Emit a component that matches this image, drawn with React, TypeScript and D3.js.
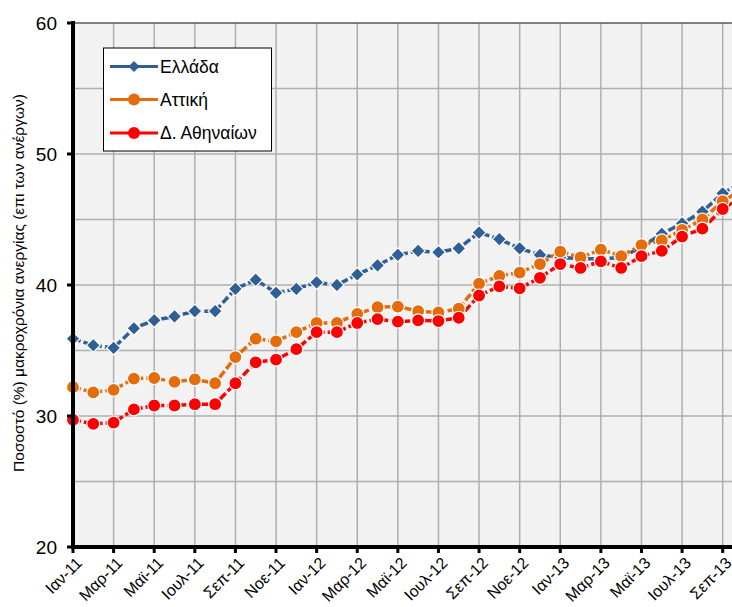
import React from "react";
import * as d3 from "d3";

const months = [
  "Ιαν-11","Φεβ-11","Μαρ-11","Απρ-11","Μαϊ-11","Ιουν-11","Ιουλ-11","Αυγ-11","Σεπ-11","Οκτ-11","Νοε-11","Δεκ-11",
  "Ιαν-12","Φεβ-12","Μαρ-12","Απρ-12","Μαϊ-12","Ιουν-12","Ιουλ-12","Αυγ-12","Σεπ-12","Οκτ-12","Νοε-12","Δεκ-12",
  "Ιαν-13","Φεβ-13","Μαρ-13","Απρ-13","Μαϊ-13","Ιουν-13","Ιουλ-13","Αυγ-13","Σεπ-13","Οκτ-13",
];

const greece = [35.9,35.4,35.2,36.7,37.3,37.6,38.0,38.0,39.7,40.4,39.4,39.7,40.2,40.0,40.8,41.5,42.3,42.6,42.5,42.8,44.0,43.5,42.8,42.3,42.1,42.0,42.0,42.1,42.9,43.9,44.7,45.6,47.0,47.9];
const attiki = [32.2,31.8,32.0,32.85,32.9,32.6,32.8,32.5,34.5,35.9,35.7,36.4,37.1,37.1,37.8,38.3,38.35,38.0,37.9,38.2,40.1,40.7,40.95,41.6,42.55,42.1,42.7,42.2,43.05,43.4,44.2,45.0,46.4,47.3];
const athens = [29.7,29.4,29.5,30.5,30.8,30.8,30.9,30.9,32.5,34.1,34.3,35.1,36.4,36.4,37.1,37.4,37.2,37.3,37.25,37.5,39.2,39.9,39.75,40.55,41.6,41.3,41.8,41.3,42.2,42.6,43.7,44.3,45.8,46.8];

const seriesNames = ["Ελλάδα", "Αττική", "Δ. Αθηναίων"];
const yTicks = [20, 30, 40, 50, 60];
const yGrid = [25, 30, 35, 40, 45, 50, 55];
const yTitle = "Ποσοστό (%) μακροχρόνια ανεργίας (επι των ανέργων)";

const colors = ["#2F5F94", "#E46C0A", "#FF0000"];
const FONT = "'Liberation Sans', Arial, sans-serif";

export default function App() {
  const left = 73, top = 23, bottom = 547;
  const x = d3.scaleLinear().domain([0, 32]).range([left, 722.7]);
  const y = d3.scaleLinear().domain([20, 60]).range([bottom, top]);
  const right = 760;
  const tickIdx = months.map((_, i) => i).filter((i) => i % 2 === 0);
  const data = [greece, attiki, athens];
  const line = d3.line<number>().x((_, i) => x(i)).y((d) => y(d));

  const diamond = (cx: number, cy: number, r: number) =>
    `M${cx},${cy - r}L${cx + r},${cy}L${cx},${cy + r}L${cx - r},${cy}Z`;

  const legendY = [66.5, 99.5, 133];

  return (
    <svg width={732} height={607} style={{ position: "absolute", left: 0, top: 0, background: "#fff" }} fontFamily={FONT}>
      <rect x={left} y={top} width={right - left} height={bottom - top} fill="#F2F2F2" />
      {yGrid.map((v) => (
        <line key={"hg" + v} x1={left} x2={right} y1={y(v)} y2={y(v)} stroke="#AFAFAF" strokeWidth={1.5} />
      ))}
      {tickIdx.filter((i) => i > 0).map((i) => (
        <line key={"vg" + i} x1={x(i)} x2={x(i)} y1={top} y2={bottom} stroke="#AFAFAF" strokeWidth={1.5} />
      ))}
      <line x1={left} x2={right} y1={top} y2={top} stroke="#595959" strokeWidth={1.5} />

      {data.map((d, s) => (
        <path key={"l" + s} d={line(d) || ""} fill="none" stroke={colors[s]} strokeWidth={3.5} strokeDasharray="8,3" />
      ))}
      {data.map((d, s) => (
        <g key={"m" + s}>
          {d.map((v, i) =>
            s === 0 ? (
              <path key={i} d={diamond(x(i), y(v), 7)} fill={colors[s]} stroke="#fff" strokeWidth={1.2} />
            ) : (
              <circle key={i} cx={x(i)} cy={y(v)} r={6.5} fill={colors[s]} stroke="#fff" strokeWidth={1.2} />
            )
          )}
        </g>
      ))}

      {/* axes */}
      <line x1={left} x2={left} y1={top - 2} y2={bottom + 2} stroke="#000" strokeWidth={4} />
      <line x1={left - 2} x2={right} y1={bottom} y2={bottom} stroke="#000" strokeWidth={4} />
      {yTicks.map((v) => (
        <g key={"yt" + v}>
          <line x1={left - 6} x2={left} y1={y(v)} y2={y(v)} stroke="#000" strokeWidth={3} />
          <text x={57} y={y(v)} dy="0.35em" textAnchor="end" fontSize={19} fill="#000">{v}</text>
        </g>
      ))}
      {tickIdx.map((i) => (
        <g key={"xt" + i}>
          <line x1={x(i)} x2={x(i)} y1={bottom} y2={bottom + 6} stroke="#000" strokeWidth={3} />
          <text
            transform={`translate(${x(i) + 6},${bottom + 13}) rotate(-45)`}
            textAnchor="end"
            dy="0.35em"
            fontSize={16}
            fill="#000"
          >
            {months[i]}
          </text>
        </g>
      ))}
      <text transform={`translate(19,${283}) rotate(-90)`} textAnchor="middle" dy="0.35em" fontSize={15.5} fill="#000">
        {yTitle}
      </text>

      {/* legend */}
      <rect x={103.5} y={48} width={168} height={103} fill="#fff" stroke="#000" strokeWidth={1} />
      {seriesNames.map((n, s) => (
        <g key={"lg" + s}>
          <line x1={110} x2={158} y1={legendY[s]} y2={legendY[s]} stroke={colors[s]} strokeWidth={3} />
          {s === 0 ? (
            <path d={diamond(134, legendY[s], 5.5)} fill={colors[s]} />
          ) : (
            <circle cx={134} cy={legendY[s]} r={6} fill={colors[s]} />
          )}
          <text x={160} y={legendY[s]} dy="0.35em" fontSize={17.5} fill="#000">{n}</text>
        </g>
      ))}
    </svg>
  );
}
